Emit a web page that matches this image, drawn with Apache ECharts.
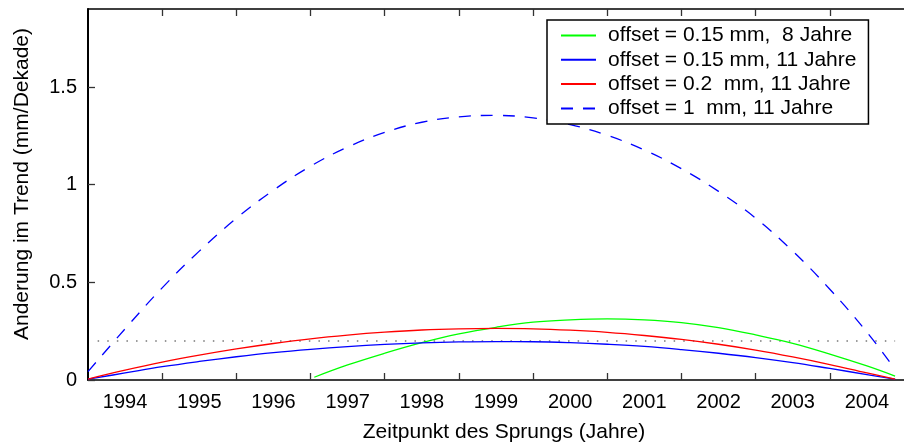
<!DOCTYPE html>
<html><head><meta charset="utf-8">
<script src="https://cdn.jsdelivr.net/npm/echarts@6/dist/echarts.min.js"></script>
<style>html,body{margin:0;padding:0;background:#fff}#c{width:904px;height:443px}</style>
</head><body><div id="c"></div>
<script>
// x positions (Zeitpunkt des Sprungs, years)
const years11 = [1994, 1994.5, 1995, 1995.5, 1996, 1996.5, 1997, 1997.5, 1998, 1998.5, 1999, 1999.5, 2000, 2000.5, 2001, 2001.5, 2002, 2002.5, 2003, 2003.5, 2004, 2004.5, 2004.88];
const years8 = [1997.05, 1997.5, 1998, 1998.5, 1999, 1999.5, 2000, 2000.5, 2001, 2001.5, 2002, 2002.5, 2003, 2003.5, 2004, 2004.5, 2004.88];
// values (mm/Dekade)
const green015_8 = [0.014, 0.077, 0.137, 0.191, 0.236, 0.270, 0.296, 0.308, 0.313, 0.308, 0.294, 0.268, 0.231, 0.188, 0.133, 0.072, 0.020];
const blue015_11 = [0.004, 0.036, 0.068, 0.095, 0.119, 0.140, 0.157, 0.171, 0.182, 0.190, 0.195, 0.197, 0.196, 0.191, 0.183, 0.172, 0.156, 0.137, 0.115, 0.089, 0.059, 0.028, 0.004];
const red02_11 = [0.005, 0.050, 0.091, 0.127, 0.159, 0.187, 0.211, 0.230, 0.245, 0.256, 0.262, 0.264, 0.262, 0.255, 0.244, 0.228, 0.208, 0.183, 0.153, 0.118, 0.079, 0.036, 0.005];
const dashed1_11 = [0.043, 0.262, 0.472, 0.660, 0.828, 0.972, 1.095, 1.193, 1.268, 1.320, 1.348, 1.355, 1.342, 1.308, 1.253, 1.178, 1.082, 0.966, 0.829, 0.660, 0.465, 0.245, 0.055];
const refYears = [1994.13, 2004.88];
const refValues = [0.2, 0.2];
// axes
const xTickYears = [1995, 1996, 1997, 1998, 1999, 2000, 2001, 2002, 2003, 2004];
const xLabelYears = [1994.5, 1995.5, 1996.5, 1997.5, 1998.5, 1999.5, 2000.5, 2001.5, 2002.5, 2003.5, 2004.5];
const yTicks = [0, 0.5, 1, 1.5];
const names = ['offset = 0.15 mm,  8 Jahre', 'offset = 0.15 mm, 11 Jahre', 'offset = 0.2  mm, 11 Jahre', 'offset = 1  mm, 11 Jahre'];

const zip = (xs, ys) => xs.map((x, i) => [x, ys[i]]);
const FONT = "'Liberation Sans', Arial, Helvetica, sans-serif";
const DASH = [12, 10];
const chart = echarts.init(document.getElementById('c'), null, {renderer: 'canvas'});
const lineSeries = (name, data, color, type) => ({
  name, type: 'line', data, symbol: 'none', showSymbol: false, smooth: 0.4,
  lineStyle: {color, width: 1.3, type: type || 'solid'}, itemStyle: {color},
  emphasis: {disabled: true}, z: 3
});
chart.setOption({
  animation: false,
  backgroundColor: '#fff',
  textStyle: {fontFamily: FONT},
  grid: {left: 88, top: 9, width: 825, height: 371},
  xAxis: [{
    type: 'value', min: 1994, max: 2005, position: 'bottom',
    axisLine: {show: true, lineStyle: {color: '#000', width: 1.5}},
    axisTick: {show: true, inside: true, length: 7, customValues: xTickYears, lineStyle: {color: '#333', width: 1.3}},
    axisLabel: {customValues: xLabelYears, formatter: v => String(Math.floor(v)), fontSize: 20, color: '#000', margin: 12, fontFamily: FONT},
    splitLine: {show: false}
  }, {
    type: 'value', min: 1994, max: 2005, position: 'top',
    axisLine: {show: true, lineStyle: {color: '#000', width: 1.5}},
    axisTick: {show: true, inside: true, length: 7, customValues: xTickYears, lineStyle: {color: '#333', width: 1.3}},
    axisLabel: {show: false}, splitLine: {show: false}
  }],
  yAxis: {
    type: 'value', min: 0, max: 1.9,
    axisLine: {show: true, lineStyle: {color: '#000', width: 2}},
    axisTick: {show: true, inside: true, length: 7, customValues: yTicks, lineStyle: {color: '#333', width: 1.3}},
    axisLabel: {customValues: yTicks, fontSize: 20, color: '#000', margin: 11, fontFamily: FONT},
    splitLine: {show: false}
  },
  legend: {
    data: [
      {name: names[0]}, {name: names[1]}, {name: names[2]},
      {name: names[3], lineStyle: {type: DASH}}
    ],
    orient: 'vertical', left: 547, top: 20,
    backgroundColor: '#fff', borderColor: '#000', borderWidth: 1.5,
    padding: [5, 12, 5, 13], itemGap: 3.3, itemWidth: 35, itemHeight: 14,
    selectedMode: false,
    itemStyle: {opacity: 0},
    textStyle: {fontSize: 21, color: '#000', fontFamily: FONT, padding: [0, 0, 0, 7]}
  },
  series: [
    lineSeries(names[0], zip(years8, green015_8), '#00ff00'),
    lineSeries(names[1], zip(years11, blue015_11), '#0000ff'),
    lineSeries(names[2], zip(years11, red02_11), '#ff0000'),
    lineSeries(names[3], zip(years11, dashed1_11), '#0000ff', DASH),
    {name: 'ref', type: 'line', data: zip(refYears, refValues), symbol: 'none', silent: true,
     lineStyle: {color: '#777', width: 1.5, type: [1.5, 8.1]}, z: 2}
  ],
  graphic: [
    {type: 'text', x: 22, y: 184, rotation: Math.PI / 2,
     style: {text: 'Anderung im Trend (mm/Dekade)', font: '21px ' + FONT, fill: '#000', textAlign: 'center', textVerticalAlign: 'middle'}},
    {type: 'text', x: 504, y: 432,
     style: {text: 'Zeitpunkt des Sprungs (Jahre)', font: '21px ' + FONT, fill: '#000', textAlign: 'center', textVerticalAlign: 'middle'}}
  ]
});
</script></body></html>
